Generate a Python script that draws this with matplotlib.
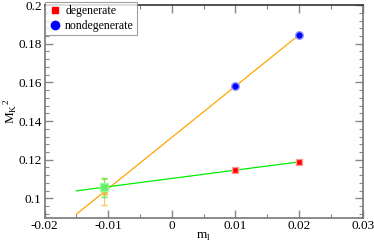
import matplotlib
matplotlib.use("Agg")
import matplotlib.pyplot as plt
from matplotlib.ticker import MultipleLocator
from matplotlib.lines import Line2D

# data
m_l = [0.01, 0.02]
deg_vals = [0.1146, 0.1189]
deg_err = [0.0008, 0.0009]
nondeg_vals = [0.1581, 0.1846]
nondeg_err = [0.0010, 0.0010]

# chiral extrapolations
extrap_x = [-0.0106]
deg_extrap = [0.1057]
deg_extrap_err = [0.0050]
nondeg_extrap = [0.1034]
nondeg_extrap_err = [0.0068]

# fit lines (end points)
fit_x = [-0.015, 0.02]
deg_fit = [0.1039, 0.1189]
nondeg_fit = [0.0918, 0.1846]

x_ticks = [-0.02, -0.01, 0, 0.01, 0.02, 0.03]
x_ticklabels = ['-0.02', '-0.01', '0', '0.01', '0.02', '0.03']
y_ticks = [0.1, 0.12, 0.14, 0.16, 0.18, 0.2]
y_ticklabels = ['0.1', '0.12', '0.14', '0.16', '0.18', '0.2']
series_names = ['degenerate', 'nondegenerate']

plt.rcParams['font.family'] = ['Liberation Serif', 'DejaVu Serif']
plt.rcParams['mathtext.fontset'] = 'custom'
plt.rcParams['mathtext.rm'] = 'Liberation Serif'

fig = plt.figure(figsize=(3.74, 2.43), dpi=100)
ax = fig.add_axes([0.119, 0.104, 0.851, 0.875])

ax.plot(fit_x, nondeg_fit, color='#ffa500', lw=0.9, zorder=2)
ax.plot(fit_x, deg_fit, color='#00ee00', lw=0.9, zorder=2)

ax.errorbar(extrap_x, nondeg_extrap, yerr=nondeg_extrap_err, fmt='s', ms=5,
            color='#ffc060', mfc='#ffb040', mec='#ffd090', elinewidth=0.8, capsize=2.5, zorder=3)
ax.errorbar(extrap_x, deg_extrap, yerr=deg_extrap_err, fmt='s', ms=6,
            color='#66ee66', mfc='#66ee66', mec='#99ff99', elinewidth=0.8, capsize=2.5, zorder=4)

ax.errorbar(m_l, deg_vals, yerr=deg_err, fmt='s', ms=5, color='#ff9999',
            mfc='red', mec='#ff9999', elinewidth=0.8, capsize=2.5, zorder=5)
ax.errorbar(m_l, nondeg_vals, yerr=nondeg_err, fmt='o', ms=5.5, color='#9999ff',
            mfc='blue', mec='#9999ff', elinewidth=0.8, capsize=2.5, zorder=5)

ax.set_xlim(-0.02, 0.03)
ax.set_ylim(0.09, 0.2)
ax.xaxis.set_minor_locator(MultipleLocator(0.005))
ax.yaxis.set_minor_locator(MultipleLocator(0.004))
ax.set_yticks(y_ticks)
ax.set_yticklabels(y_ticklabels)
ax.set_xticks(x_ticks)
ax.set_xticklabels(x_ticklabels)
ax.tick_params(which='both', direction='in', top=True, right=True, colors='#888888',
               labelcolor='black', labelsize=9.5)
ax.tick_params(which='major', length=6, width=1)
ax.tick_params(which='minor', length=3, width=0.8)
ax.tick_params(axis='x', pad=1.5)
ax.tick_params(axis='y', pad=2)
for s in ax.spines.values():
    s.set_color('#777777')
    s.set_linewidth(1.2)
ax.spines['top'].set_color('#333333')

ax.set_xlabel(r'm$_\mathrm{l}$', fontsize=9.5, labelpad=-1)
ax.set_ylabel(r'M$_\mathrm{K}$$^\mathrm{2}$', fontsize=9.5, labelpad=-1)

handles = [Line2D([], [], ls='none', marker='s', ms=5, mfc='red', mec='red'),
           Line2D([], [], ls='none', marker='o', ms=6, mfc='blue', mec='blue')]
leg = ax.legend(handles, series_names, loc='upper left', bbox_to_anchor=(0.0, 1.015),
                fontsize=8.5, frameon=True, fancybox=False, borderpad=0.25,
                handletextpad=0.3, labelspacing=0.25, borderaxespad=0.0, handlelength=1.2)
leg.get_frame().set_edgecolor('#888888')
leg.get_frame().set_linewidth(0.8)

fig.savefig('out.png', dpi=100)
